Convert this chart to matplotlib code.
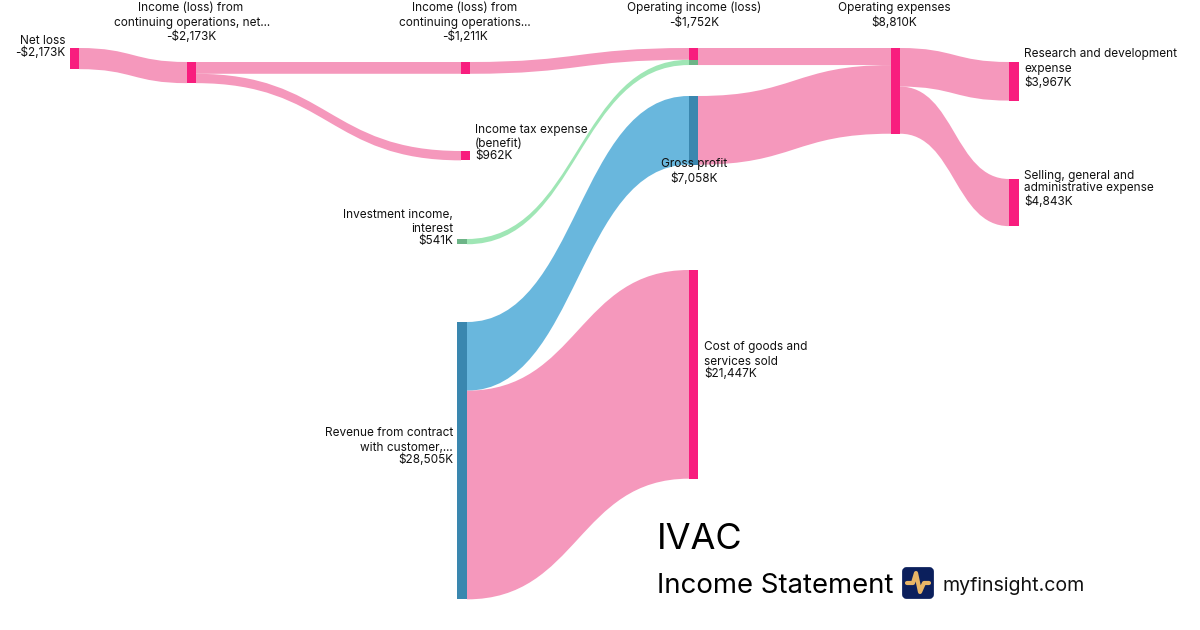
#!/usr/bin/env python3
import matplotlib
matplotlib.use('Agg')
import matplotlib.pyplot as plt
from matplotlib.patches import FancyBboxPatch, PathPatch, Rectangle
from matplotlib.path import Path

plt.rcParams['font.family'] = ['Inter', 'DejaVu Sans']

# values in $K
node_names = ['net', 'cont', 'cont2', 'tax', 'invest', 'revenue',
              'opinc', 'gross', 'cogs', 'opex', 'rd', 'sga']
node_values = [2173, 2173, 1211, 962, 541, 28505, 1752, 7058, 21447, 8810, 3967, 4843]

link_sources = ['net', 'cont', 'cont', 'cont2', 'invest', 'revenue', 'revenue',
                'opinc', 'gross', 'opex', 'opex']
link_targets = ['cont', 'cont2', 'tax', 'opinc', 'opinc', 'gross', 'cogs',
                'opex', 'opex', 'rd', 'sga']
link_values = [2173, 1211, 962, 1211, 541, 7058, 21447, 1752, 7058, 3967, 4843]
link_kinds = ['loss', 'loss', 'loss', 'loss', 'gain', 'profit', 'loss',
              'loss', 'loss', 'loss', 'loss']

# layout in pixels
PX_PER_K = 0.00973
node_left = dict(zip(node_names, [70, 187, 461, 461, 457, 457, 689, 689, 689, 891, 1009, 1009]))
node_width = dict(zip(node_names, [9, 9, 9, 9, 10, 10, 9, 9, 9, 9, 10, 10]))
node_top = dict(zip(node_names, [48, 62, 62, 151, 239, 322, 48, 96, 270, 48, 62, 179]))
node_colors = dict(zip(node_names, ['#F81D7E', '#F81D7E', '#F81D7E', '#F81D7E', '#6DB487', '#3A87AF',
                                    '#F81D7E', '#3A87AF', '#F81D7E', '#F81D7E', '#F81D7E', '#F81D7E']))
link_colors = {'loss': '#F598BC', 'profit': '#69B7DD', 'gain': '#9FE6B5'}

# text, x, y, alignment
labels = [
    ('Net loss', 66, 41, 'right'), ('-$2,173K', 65, 53, 'right'),
    ('Income (loss) from', 191, 8, 'center'), ('continuing operations, net...', 192, 23, 'center'),
    ('-$2,173K', 191, 37, 'center'),
    ('Income (loss) from', 465, 8, 'center'), ('continuing operations...', 465, 23, 'center'),
    ('-$1,211K', 465, 37, 'center'),
    ('Operating income (loss)', 694, 8, 'center'), ('-$1,752K', 694, 23, 'center'),
    ('Operating expenses', 894, 8, 'center'), ('$8,810K', 894, 23, 'center'),
    ('Research and development', 1024, 54, 'left'), ('expense', 1024, 69, 'left'), ('$3,967K', 1024, 83, 'left'),
    ('Selling, general and', 1024, 176, 'left'), ('administrative expense', 1024, 188, 'left'),
    ('$4,843K', 1024, 202, 'left'),
    ('Income tax expense', 475, 130, 'left'), ('(benefit)', 475, 144, 'left'), ('$962K', 475, 156, 'left'),
    ('Investment income,', 453, 215, 'right'), ('interest', 453, 229, 'right'), ('$541K', 453, 241, 'right'),
    ('Gross profit', 694, 164, 'center'), ('$7,058K', 694, 179, 'center'),
    ('Revenue from contract', 453, 433, 'right'), ('with customer,...', 453, 448, 'right'),
    ('$28,505K', 453, 460, 'right'),
    ('Cost of goods and', 704, 347, 'left'), ('services sold', 704, 362, 'left'), ('$21,447K', 704, 374, 'left'),
]


def ribbon(ax, x0, x1, y0, y1, h, color):
    # cubic ribbon with its control points half way between the two nodes
    xm = (x0 + x1) / 2
    verts = [(x0, y0), (xm, y0), (xm, y1), (x1, y1),
             (x1, y1 + h),
             (xm, y1 + h), (xm, y0 + h), (x0, y0 + h),
             (x0, y0)]
    codes = [Path.MOVETO, Path.CURVE4, Path.CURVE4, Path.CURVE4,
             Path.LINETO,
             Path.CURVE4, Path.CURVE4, Path.CURVE4,
             Path.CLOSEPOLY]
    ax.add_patch(PathPatch(Path(verts, codes), facecolor=color, edgecolor='none', zorder=1))


fig = plt.figure(figsize=(12, 6.3), dpi=100)
ax = fig.add_axes([0, 0, 1, 1])
ax.set_xlim(0, 1200)
ax.set_ylim(630, 0)
ax.axis('off')

out_used = dict.fromkeys(node_names, 0)
in_used = dict.fromkeys(node_names, 0)
tints = []
for src, dst, val, kind in zip(link_sources, link_targets, link_values, link_kinds):
    h = val * PX_PER_K
    y0 = node_top[src] + out_used[src]
    y1 = node_top[dst] + in_used[dst]
    ribbon(ax, node_left[src] + node_width[src], node_left[dst], y0, y1, h, link_colors[kind])
    if kind == 'gain':
        tints.append((dst, y1, h))
    out_used[src] += h
    in_used[dst] += h

for name, val in zip(node_names, node_values):
    ax.add_patch(Rectangle((node_left[name], node_top[name]), node_width[name], val * PX_PER_K,
                           facecolor=node_colors[name], edgecolor='none', zorder=2))

# the green inflow shows through on the operating income node
for name, y, h in tints:
    ax.add_patch(Rectangle((node_left[name], y), node_width[name], h,
                           facecolor='#6DB487', edgecolor='none', zorder=3))

for text, x, y, ha in labels:
    ax.text(x, y, text, ha=ha, va='center', fontsize=8.5, color='#111111', zorder=4)

ax.text(657, 539.5, 'IVAC', fontsize=26, color='black', ha='left', va='center')
ax.text(657, 586, 'Income Statement', fontsize=19.85, color='black', ha='left', va='center')
ax.text(942, 586, 'myfinsight.com', fontsize=14.1, color='#111111', ha='left', va='center')

# logo
ax.add_patch(FancyBboxPatch((903.5, 568.5), 29, 29, boxstyle='round,pad=0,rounding_size=3',
                            facecolor='#0B1F5C', edgecolor='#0B1F5C', linewidth=2, joinstyle='round'))
ax.plot([907, 913, 916, 920, 924, 929], [583, 583, 573, 592, 583, 583], color='#E8B566',
        linewidth=3, solid_capstyle='round', solid_joinstyle='round')

fig.savefig('out.png', dpi=100)
plt.close(fig)
